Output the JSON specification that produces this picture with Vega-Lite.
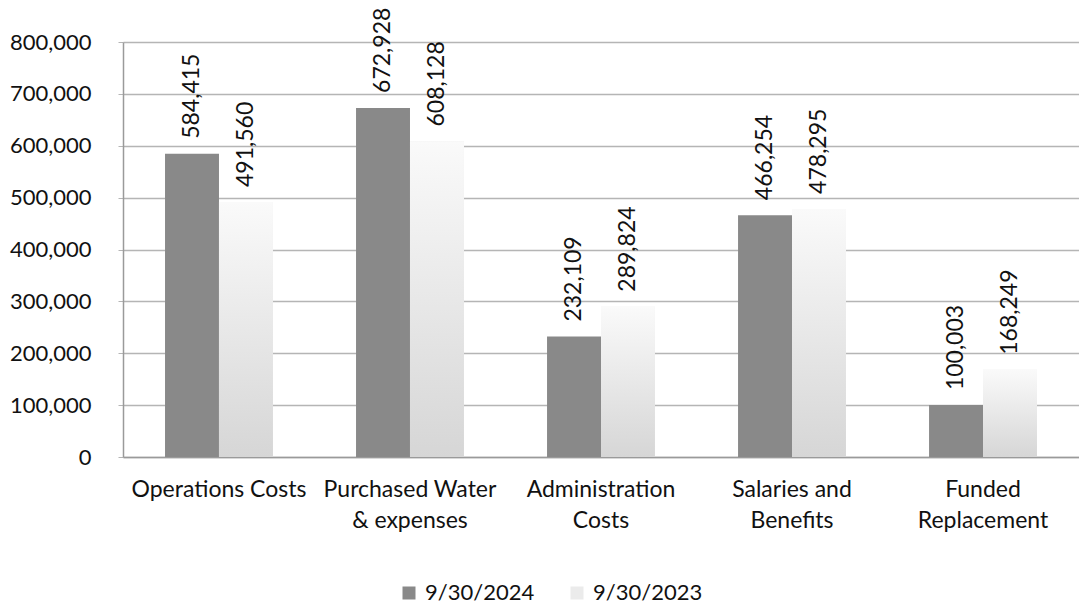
{
  "$schema": "https://vega.github.io/schema/vega-lite/v6.json",
  "width": 956,
  "height": 415,
  "autosize": {"type": "none"},
  "padding": {"left": 123, "top": 42, "right": 0, "bottom": 149},
  "background": "white",
  "config": {"view": {"stroke": null}, "font": "Lato"},
  "data": {
    "values": [
      {"category": "Operations Costs", "year": "9/30/2024", "value": 584415},
      {"category": "Operations Costs", "year": "9/30/2023", "value": 491560},
      {"category": "Purchased Water & expenses", "year": "9/30/2024", "value": 672928},
      {"category": "Purchased Water & expenses", "year": "9/30/2023", "value": 608128},
      {"category": "Administration Costs", "year": "9/30/2024", "value": 232109},
      {"category": "Administration Costs", "year": "9/30/2023", "value": 289824},
      {"category": "Salaries and Benefits", "year": "9/30/2024", "value": 466254},
      {"category": "Salaries and Benefits", "year": "9/30/2023", "value": 478295},
      {"category": "Funded Replacement", "year": "9/30/2024", "value": 100003},
      {"category": "Funded Replacement", "year": "9/30/2023", "value": 168249}
    ]
  },
  "encoding": {
    "x": {
      "field": "category",
      "type": "nominal",
      "sort": null,
      "scale": {"paddingInner": 0.435, "paddingOuter": 0.22},
      "axis": {
        "title": null,
        "labelAngle": 0,
        "ticks": false,
        "domainColor": "#9a9a9a",
        "domainWidth": 1.5,
        "labelPadding": 21,
        "labelFontSize": 23,
        "labelColor": "#111111",
        "labelLineHeight": 31,
        "labelBaseline": "top",
        "labelExpr": "datum.value == 'Purchased Water & expenses' ? ['Purchased Water', '& expenses'] : datum.value == 'Administration Costs' ? ['Administration', 'Costs'] : datum.value == 'Salaries and Benefits' ? ['Salaries and', 'Benefits'] : datum.value == 'Funded Replacement' ? ['Funded', 'Replacement'] : datum.value"
      }
    },
    "xOffset": {"field": "year", "type": "nominal", "sort": ["9/30/2024", "9/30/2023"]},
    "y": {
      "field": "value",
      "type": "quantitative",
      "scale": {"domain": [0, 800000]},
      "axis": {
        "title": null,
        "values": [0, 100000, 200000, 300000, 400000, 500000, 600000, 700000, 800000],
        "format": ",.0f",
        "grid": true,
        "gridColor": "#b5b5b5",
        "gridWidth": 1.5,
        "domainColor": "#9a9a9a",
        "domainWidth": 1.5,
        "tickSize": 5,
        "tickColor": "#b5b5b5",
        "labelPadding": 27,
        "labelFontSize": 22,
        "labelColor": "#111111"
      }
    }
  },
  "layer": [
    {
      "mark": {"type": "bar"},
      "encoding": {
        "color": {
          "field": "year",
          "type": "nominal",
          "sort": ["9/30/2024", "9/30/2023"],
          "scale": {"domain": ["9/30/2024", "9/30/2023"], "range": ["#898989", "#ebebeb"]},
          "legend": {
            "title": null,
            "orient": "none",
            "direction": "horizontal",
            "legendX": 275,
            "legendY": 540,
            "padding": 0,
            "symbolType": "square",
            "symbolSize": 169,
            "symbolStrokeWidth": 0,
            "labelFontSize": 22,
            "labelColor": "#111111",
            "labelOffset": 5,
            "columnPadding": 31
          }
        }
      }
    },
    {
      "transform": [{"filter": "datum.year === '9/30/2023'"}],
      "mark": {
        "type": "bar",
        "color": {
          "gradient": "linear",
          "x1": 0, "y1": 0, "x2": 0, "y2": 1,
          "stops": [
            {"offset": 0, "color": "#fafafa"},
            {"offset": 1, "color": "#d6d6d6"}
          ]
        }
      },
      "encoding": {}
    },
    {
      "mark": {
        "type": "text",
        "angle": -90,
        "align": "left",
        "baseline": "middle",
        "dx": 15,
        "fontSize": 23,
        "color": "#111111"
      },
      "encoding": {
        "text": {"field": "value", "type": "quantitative", "format": ",.0f"}
      }
    }
  ]
}
